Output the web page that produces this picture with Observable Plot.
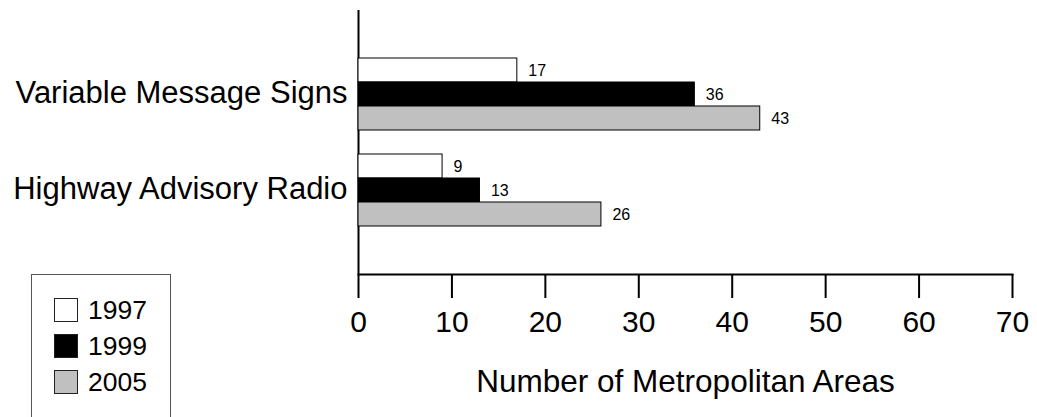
<!DOCTYPE html>
<html><head><meta charset="utf-8">
<script src="https://cdn.jsdelivr.net/npm/d3@7"></script>
<script src="https://cdn.jsdelivr.net/npm/@observablehq/plot@0.6"></script>
<style>
body{margin:0;background:#fff;font-family:"Liberation Sans",Arial,sans-serif;}
#wrap{position:relative;width:1037px;height:417px;overflow:hidden;}
#bars,#axes{position:absolute;left:0;top:0;}
#legend{position:absolute;left:31px;top:274px;width:140px;height:160px;border:1.5px solid #555;box-sizing:border-box;}
.item{position:absolute;left:22px;display:flex;align-items:center;font-size:26.5px;line-height:24px;color:#000;}
.sw{width:24px;height:24px;box-sizing:border-box;border:1px solid #222;margin-right:10px;}
</style></head><body>
<div id="wrap"><div id="axes"></div><div id="bars"></div><div id="legend"></div></div>
<script>
const categories = ["Variable Message Signs", "Highway Advisory Radio"];
const years = ["1997", "1999", "2005"];
const values1997 = [17, 9];
const values1999 = [36, 13];
const values2005 = [43, 26];
const yearColors = ["#ffffff", "#000000", "#c0c0c0"];
const xTicks = [0, 10, 20, 30, 40, 50, 60, 70];
const xLabel = "Number of Metropolitan Areas";

const series = [values1997, values1999, values2005];
const rows = categories.flatMap((c, i) => years.map((y, j) => ({category: c, year: y, value: series[j][i]})));

const frame = {width: 1037, height: 417, marginLeft: 358, marginRight: 25, marginTop: 10, marginBottom: 143};
const font = {fontFamily: "Liberation Sans, Arial, sans-serif", background: "transparent", color: "#000"};

// Bars, value labels and category labels (faceted by category)
const bars = Plot.plot({
  ...frame,
  style: font,
  x: {domain: [0, 70], axis: null},
  y: {domain: years, padding: 0, axis: null},
  fy: {domain: categories, paddingInner: 0.25, paddingOuter: 0.5, axis: null},
  color: {domain: years, range: yearColors},
  marks: [
    Plot.barX(rows, {fy: "category", y: "year", x: "value", fill: "year", stroke: "#000", strokeWidth: 1}),
    Plot.text(rows, {fy: "category", y: "year", x: "value", text: d => String(d.value), textAnchor: "start", dx: 11, fontSize: 16, fill: "#000"}),
    Plot.text(categories, {fy: d => d, text: d => d, frameAnchor: "left", textAnchor: "end", dx: -11, dy: -1, fontSize: 31, fill: "#000"})
  ]
});

// Axes (same frame, same x scale)
const axes = Plot.plot({
  ...frame,
  style: font,
  x: {domain: [0, 70], axis: null},
  marks: [
    Plot.ruleX([0], {stroke: "#000", strokeWidth: 2}),
    Plot.frame({anchor: "bottom", stroke: "#000", strokeWidth: 2}),
    Plot.axisX({ticks: xTicks, tickSize: 24, tickPadding: 12, fontSize: 30, strokeWidth: 2, label: null, tickFormat: d => String(d)}),
    Plot.text([xLabel], {text: d => d, frameAnchor: "bottom", lineAnchor: "middle", dy: 107, fontSize: 31.5, fill: "#000"})
  ]
});

document.getElementById("axes").appendChild(axes);
document.getElementById("bars").appendChild(bars);

const legend = document.getElementById("legend");
years.forEach((y, j) => {
  const item = document.createElement("div");
  item.className = "item";
  item.style.top = (23 + j * 36) + "px";
  const sw = document.createElement("div");
  sw.className = "sw";
  sw.style.background = yearColors[j];
  const lab = document.createElement("span");
  lab.textContent = y;
  item.appendChild(sw); item.appendChild(lab);
  legend.appendChild(item);
});
</script>
</body></html>
